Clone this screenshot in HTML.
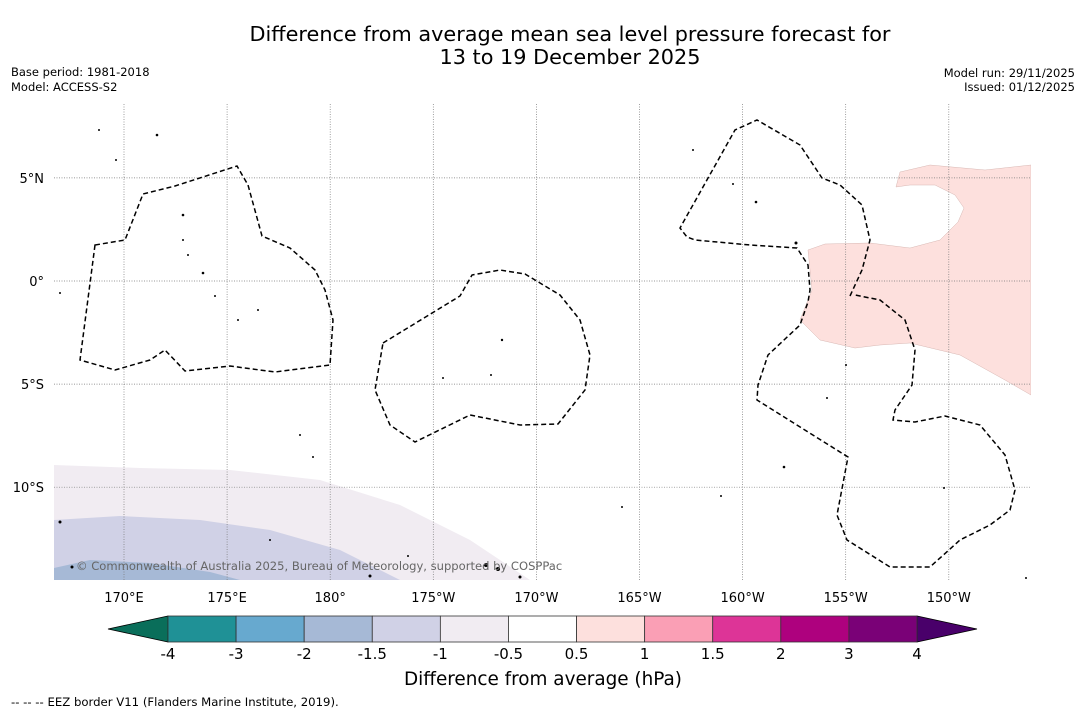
<!DOCTYPE html>
<html><head><meta charset="utf-8"><style>
html,body{margin:0;padding:0;background:#fff;}
svg{display:block;font-family:"DejaVu Sans","Liberation Sans",sans-serif;}
</style></head><body>
<svg width="1085" height="713" viewBox="0 0 1085 713">
<text x="570" y="41" text-anchor="middle" font-size="20.8">Difference from average mean sea level pressure forecast for</text>
<text x="570" y="64" text-anchor="middle" font-size="20.8">13 to 19 December 2025</text>
<text x="11" y="76" font-size="11.5">Base period: 1981-2018</text>
<text x="11" y="91" font-size="11.5">Model: ACCESS-S2</text>
<text x="1075" y="77" font-size="11.5" text-anchor="end">Model run: 29/11/2025</text>
<text x="1075" y="91" font-size="11.5" text-anchor="end">Issued: 01/12/2025</text>

<g>
<rect x="54" y="104" width="977" height="476" fill="#fff"/>
<clipPath id="mc"><rect x="54" y="104" width="977" height="476"/></clipPath>
<g clip-path="url(#mc)">
<path fill="#f1ecf2" d="M54,465 L140,468 L230,470 L320,480 L400,505 L470,540 L530,580 L54,580Z"/>
<path fill="#d0d1e6" d="M54,520 L120,516 L200,520 L270,530 L340,550 L400,580 L54,580Z"/>
<path fill="#a6b9d6" d="M54,568 L90,560 L150,563 L210,572 L240,580 L54,580Z"/>
<path fill="#fde0dd" stroke="#d8b8b4" stroke-width="0.5" d="M900,172 L930,165 L985,170 L1031,165 L1031,395 L1005,380 L960,355 L910,343 L880,345 L855,348 L820,340 L800,320 L812,290 L808,250 L825,244 L870,243 L910,248 L940,240 L958,222 L964,208 L955,195 L935,185 L910,185 L896,187Z"/>
</g>
<g id="grid" stroke="#777" stroke-width="0.7" stroke-dasharray="1,1.5"></g>
<g fill="none" stroke="#000" stroke-width="1.5" stroke-dasharray="5,3">
<path d="M95,245 L125,240 L143,194 L175,186 L237,166 L248,185 L262,236 L290,248 L315,270 L325,290 L333,320 L330,365 L275,372 L230,366 L185,371 L165,350 L150,360 L115,370 L80,360 Z"/>
<path d="M383,343 L460,296 L472,275 L500,270 L525,274 L560,295 L580,320 L590,355 L585,390 L558,424 L520,425 L470,415 L415,442 L390,425 L375,390 Z"/>
<path d="M850,296 L862,270 L870,240 L862,205 L840,185 L822,178 L800,145 L757,120 L735,130 L680,228 L687,237 L695,240 L750,245 L797,248 L808,265 L810,290 L808,302 L800,325 L768,355 L758,385 L757,400 L848,457 L837,515 L847,540 L890,567 L930,567 L960,540 L990,525 L1010,510 L1015,490 L1005,455 L980,425 L945,416 L915,422 L893,420 L895,410 L912,385 L915,350 L905,320 L880,300 L855,295"/>
</g>
<g fill="#000">
<circle cx="183" cy="240" r="1"/><circle cx="188" cy="255" r="1"/><circle cx="203" cy="273" r="1.3"/><circle cx="215" cy="296" r="1"/><circle cx="238" cy="320" r="1"/><circle cx="258" cy="310" r="1"/><circle cx="183" cy="215" r="1.3"/><circle cx="157" cy="135" r="1.3"/><circle cx="99" cy="130" r="1"/><circle cx="116" cy="160" r="1"/><circle cx="502" cy="340" r="1.2"/><circle cx="491" cy="375" r="1"/><circle cx="443" cy="378" r="1"/><circle cx="756" cy="202" r="1.3"/><circle cx="796" cy="243" r="1.5"/><circle cx="784" cy="467" r="1.3"/><circle cx="721" cy="496" r="1"/><circle cx="486" cy="565" r="2"/><circle cx="498" cy="569" r="2"/><circle cx="520" cy="577" r="1.5"/><circle cx="60" cy="522" r="1.5"/><circle cx="72" cy="567" r="1.5"/><circle cx="270" cy="540" r="1"/><circle cx="408" cy="556" r="1"/><circle cx="370" cy="576" r="1.5"/><circle cx="60" cy="293" r="1"/><circle cx="300" cy="435" r="1"/><circle cx="313" cy="457" r="1"/><circle cx="1026" cy="578" r="1"/><circle cx="827" cy="398" r="1"/><circle cx="846" cy="365" r="1"/><circle cx="693" cy="150" r="1"/><circle cx="733" cy="184" r="1"/><circle cx="622" cy="507" r="1"/><circle cx="944" cy="488" r="1"/>
</g>
<text x="76" y="570" font-size="11.55" fill="#666">© Commonwealth of Australia 2025, Bureau of Meteorology, supported by COSPPac</text>
<g id="axlabels" font-size="13"></g>
</g>

<g id="cbar"></g>
<text x="543" y="685" text-anchor="middle" font-size="18.4">Difference from average (hPa)</text>
<text x="11" y="706" font-size="11.7">--  --  -- EEZ border V11 (Flanders Marine Institute, 2019).</text>
</svg>
<script>
const lonTicks=[170,175,180,185,190,195,200,205,210];
const lonLabels=["170°E","175°E","180°","175°W","170°W","165°W","160°W","155°W","150°W"];
const latTicks=[5,0,-5,-10];
const latLabels=["5°N","0°","5°S","10°S"];
const levels=["-4","-3","-2","-1.5","-1","-0.5","0.5","1","1.5","2","3","4"];
const colors=["#1f9196","#67a9cf","#a6b9d6","#d0d1e6","#f1ecf2","#ffffff","#fde0dd","#fa9fb5","#dd3497","#ae017e","#7a0177"];
const extendLow="#0a6e5a", extendHigh="#49006a";
const NS="http://www.w3.org/2000/svg";
const X=lon=>124+(lon-170)*20.62;
const Y=lat=>281-lat*20.62;
function mk(tag,attrs,parent){const e=document.createElementNS(NS,tag);for(const k in attrs)e.setAttribute(k,attrs[k]);parent.appendChild(e);return e;}
const grid=document.getElementById('grid'),ax=document.getElementById('axlabels');
lonTicks.forEach((l,i)=>{
  const ln=mk('line',{x1:X(l),x2:X(l),y1:104,y2:580},grid);
  
  
  const t=mk('text',{x:X(l),y:602,'text-anchor':'middle'},ax);t.textContent=lonLabels[i];
  
  
});
latTicks.forEach((l,i)=>{
  const ln=mk('line',{x1:54,x2:1031,y1:Y(l),y2:Y(l)},grid);
  
  
  const t=mk('text',{x:44,y:Y(l)+5,'text-anchor':'end'},ax);t.textContent=latLabels[i];
  
  
});
const cb=document.getElementById('cbar');
const cx0=168,cx1=917,cy0=616,cy1=642,n=colors.length,w=(cx1-cx0)/n;
const lo=mk('polygon',{points:`${cx0},${cy0} ${cx0},${cy1} 108,${(cy0+cy1)/2}`,fill:extendLow,stroke:'#000','stroke-width':0.8},cb);


const hi=mk('polygon',{points:`${cx1},${cy0} ${cx1},${cy1} 977,${(cy0+cy1)/2}`,fill:extendHigh,stroke:'#000','stroke-width':0.8},cb);


colors.forEach((c,i)=>{
  const r=mk('rect',{x:cx0+i*w,y:cy0,width:w,height:cy1-cy0,fill:c,stroke:'#333','stroke-width':0.8},cb);
  
  
});
levels.forEach((s,i)=>{
  const t=mk('text',{x:cx0+i*w,y:659,'text-anchor':'middle','font-size':15},cb);t.textContent=s;
  
  
});
</script>
</body></html>
